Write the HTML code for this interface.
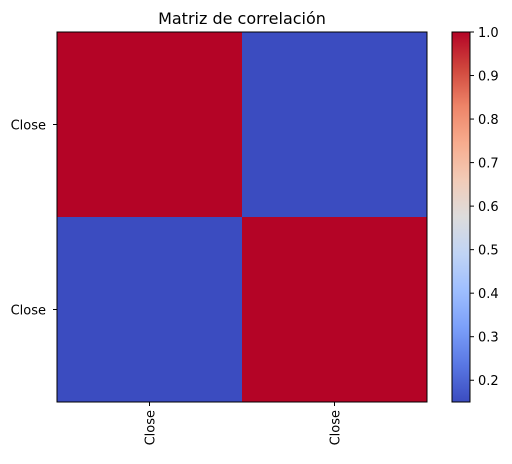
<!DOCTYPE html>
<html><head><meta charset="utf-8"><style>
body{margin:0;background:#fff;font-family:"Liberation Sans","DejaVu Sans",sans-serif}
</style></head><body>
<svg width="512" height="459" xmlns="http://www.w3.org/2000/svg" font-family="DejaVu Sans, Liberation Sans, sans-serif">
<defs><linearGradient id="cw" x1="0" y1="1" x2="0" y2="0">
<stop offset="0" stop-color="#3b4cc0"/><stop offset="0.1" stop-color="#5977e3"/><stop offset="0.2" stop-color="#7b9ff9"/><stop offset="0.3" stop-color="#9ebeff"/><stop offset="0.4" stop-color="#c0d4f5"/><stop offset="0.5" stop-color="#dddcdc"/><stop offset="0.6" stop-color="#f2cbb7"/><stop offset="0.7" stop-color="#f7ac8e"/><stop offset="0.8" stop-color="#ee8468"/><stop offset="0.9" stop-color="#d0473d"/><stop offset="1" stop-color="#b40426"/>
</linearGradient></defs>
<text x="242" y="24" text-anchor="middle" font-size="16">Matriz de correlación</text>
<g id="cells"></g>
<rect x="57" y="32" width="370" height="370" fill="none" stroke="#000" stroke-width="1"/>
<g id="axes" font-size="13"></g>
<rect x="452" y="32" width="18" height="370" fill="url(#cw)" stroke="#000" stroke-width="1"/>
<g id="cbticks" font-size="13"></g>
</svg>
<script>
const labels = ["Close","Close"];
const matrix = [[1.0,0.15],[0.15,1.0]];
const cbTicks = [0.2,0.3,0.4,0.5,0.6,0.7,0.8,0.9,1.0];
const vmin = 0.15, vmax = 1.0;
const NS="http://www.w3.org/2000/svg";
const X0=57,Y0=32,S=370,n=labels.length,cw=S/n;
const stops=[[59,76,192],[89,119,227],[123,159,249],[158,190,255],[192,212,245],[221,220,220],[242,203,183],[247,172,142],[238,132,104],[208,71,61],[180,4,38]];
function color(v){let t=(v-vmin)/(vmax-vmin);t=Math.max(0,Math.min(1,t));const p=t*(stops.length-1),i=Math.min(Math.floor(p),stops.length-2),f=p-i;const c=stops[i].map((a,k)=>Math.round(a+(stops[i+1][k]-a)*f));return `rgb(${c})`;}
function el(tag,attrs,parent){const e=document.createElementNS(NS,tag);for(const k in attrs)e.setAttribute(k,attrs[k]);parent.appendChild(e);return e;}
const cells=document.getElementById('cells');
matrix.forEach((row,r)=>row.forEach((v,c)=>{const e=el('rect',{x:X0+c*cw,y:Y0+r*cw,width:cw+0.5,height:cw+0.5,fill:color(v)},cells);

}));
const ax=document.getElementById('axes');
labels.forEach((l,i)=>{const y=Y0+(i+0.5)*cw;
el('line',{x1:X0-4,x2:X0,y1:y,y2:y,stroke:'#000'},ax);
const t=el('text',{x:X0-11,y:y+5,'text-anchor':'end'},ax);t.textContent=l;


const x=X0+(i+0.5)*cw;
el('line',{x1:x,x2:x,y1:Y0+S,y2:Y0+S+4,stroke:'#000'},ax);
const t2=el('text',{x:x+5,y:Y0+S+8,'text-anchor':'end',transform:`rotate(-90 ${x+5} ${Y0+S+8})`},ax);t2.textContent=l;

});
const cb=document.getElementById('cbticks');
cbTicks.forEach(v=>{const y=Y0+S-(v-vmin)/(vmax-vmin)*S;
el('line',{x1:470,x2:474,y1:y,y2:y,stroke:'#000'},cb);
const t=el('text',{x:478,y:y+5},cb);t.textContent=v.toFixed(1);

});
</script>
</body></html>
